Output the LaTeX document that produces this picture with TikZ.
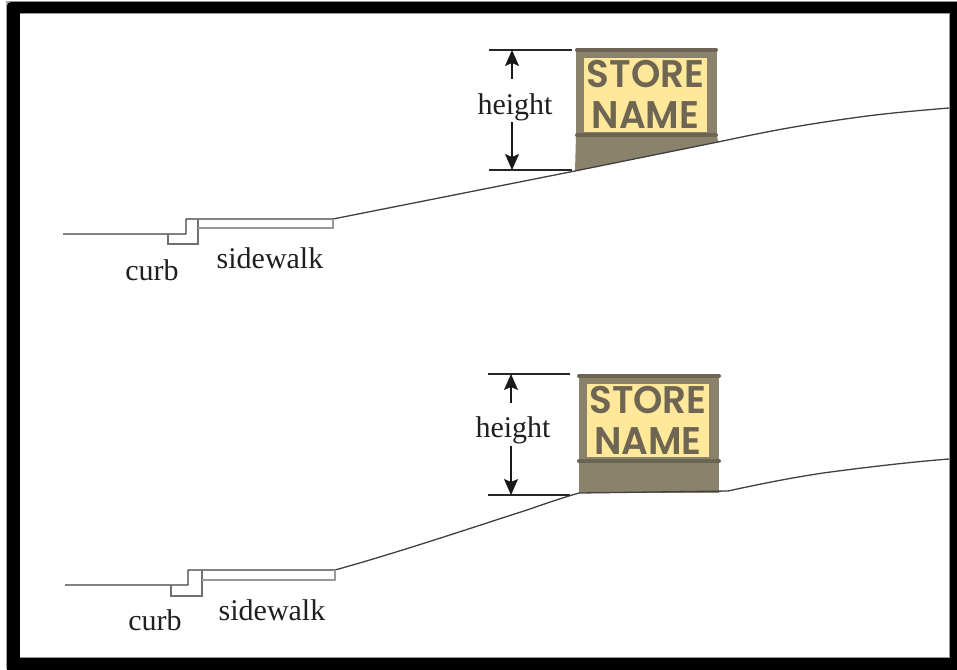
\documentclass[tikz,border=0pt]{standalone}
\usepackage{fontspec}
\setmainfont{Liberation Serif}
\newfontfamily\signfont[FakeStretch=0.97]{Poppins SemiBold}
\usetikzlibrary{arrows.meta}
\definecolor{bodyc}{HTML}{8B826C}
\definecolor{barc}{HTML}{6A6553}
\definecolor{yel}{HTML}{FFE89A}
\definecolor{letc}{HTML}{6E6653}
\definecolor{curbc}{HTML}{707070}
\definecolor{walkc}{HTML}{999999}
\tikzset{
  x=1pt,y=-1pt,
  label/.style={font=\fontsize{30}{30}\selectfont,text=black!88,inner sep=0pt},
  signtext/.style={font=\signfont\fontsize{38.5}{39}\selectfont,text=letc,inner sep=0pt,anchor=base},
  ground/.style={draw=black!75,line width=1.3pt,line join=round},
  curbline/.style={draw=curbc,line width=1.1pt,line join=miter},
  walkline/.style={draw=walkc,line width=1.1pt,line join=miter},
  dimline/.style={draw=black!85,line width=1.2pt},
  dimarrow/.style={draw=black!90,line width=1.2pt,-{Stealth[length=16pt,width=14pt,inset=3pt]}},
  bar/.style={draw=barc,line width=4pt,line cap=round},
}
\begin{document}
\begin{tikzpicture}
\useasboundingbox (0,0) rectangle (957,669);
\fill[white] (0,0) rectangle (957,669);
\fill[black!35] (6,1) rectangle (957,669);
\fill[black,rounded corners=4pt] (7,2) rectangle (970,680);
\fill[black!40] (19.5,13.5) rectangle (949.5,657.5);
\fill[white] (20,14) rectangle (949,657);

% --- upper scene ---
\coordinate (g1a) at (63,234); \coordinate (g1b) at (186,234); \coordinate (g1c) at (186,219);
\coordinate (g1d) at (333,219); \coordinate (g1e) at (575,171); \coordinate (g1f) at (718,142);
\coordinate (g1g) at (949,108);
\coordinate (c1a) at (168,234); \coordinate (c1b) at (168,244); \coordinate (c1c) at (198,244);
\coordinate (c1d) at (198,219); \coordinate (s1a) at (198,228); \coordinate (s1b) at (333,228);
\fill[bodyc] (g1e) -- (576,135) -- (717,135) -- (g1f) -- cycle;
\fill[bodyc] (576,50) rectangle (717,135);
\fill[yel] (584,58) rectangle (707,132);
\draw[bar] (577,50) -- (716,50);
\draw[bar] (577,135) -- (716,135);
\node[signtext] (store1) at (645.5,87) {STORE};
\node[signtext] (name1) at (645.5,128) {NAME};
\draw[ground] (g1a) -- (g1b) -- (g1c) -- (g1d) -- (g1e) -- (g1f)
  .. controls (770,131) and (800,125) .. (867,116) .. controls (895,112.5) and (925,110) .. (g1g);
\draw[curbline] (c1a) -- (c1b) -- (c1c) -- (c1d);
\draw[walkline] (s1a) -- (s1b) -- (g1d);
\coordinate (d1a) at (489,50); \coordinate (d1b) at (572,50);
\coordinate (d1c) at (489,170); \coordinate (d1d) at (572,170);
\draw[dimline] (d1a) -- (d1b);
\draw[dimline] (d1c) -- (d1d);
\node[label] (h1) at (515,107) {height};
\coordinate (t1) at (512,50); \coordinate (b1) at (512,170);
\coordinate (u1) at (512,79); \coordinate (l1) at (512,122);
\draw[dimarrow] (u1) -- (t1);
\draw[dimarrow] (l1) -- (b1);
\node[label] (curb1) at (152,270) {curb};
\node[label] (side1) at (270,258) {sidewalk};

% --- lower scene ---
\coordinate (g2a) at (65,585); \coordinate (g2b) at (188,585); \coordinate (g2c) at (188,570);
\coordinate (g2d) at (335,570); \coordinate (g2e) at (579,493); \coordinate (g2f) at (728,491);
\coordinate (g2g) at (949,459);
\coordinate (c2a) at (171,585); \coordinate (c2b) at (171,596); \coordinate (c2c) at (202,596);
\coordinate (c2d) at (202,570); \coordinate (s2a) at (202,580); \coordinate (s2b) at (335,580);
\fill[bodyc] (579,376) rectangle (719,493);
\fill[yel] (587,384) rectangle (709,457);
\draw[bar] (579,376) -- (719,376);
\draw[bar] (579,461) -- (719,461);
\node[signtext] (store2) at (648,413) {STORE};
\node[signtext] (name2) at (648,454) {NAME};
\draw[ground] (g2a) -- (g2b) -- (g2c) -- (g2d)
  .. controls (400,552) and (480,525) .. (527,510) .. controls (550,502) and (565,497) .. (g2e)
  -- (g2f) .. controls (760,484) and (790,478) .. (823,473) .. controls (860,468) and (910,462) .. (g2g);
\draw[curbline] (c2a) -- (c2b) -- (c2c) -- (c2d);
\draw[walkline] (s2a) -- (s2b) -- (g2d);
\coordinate (d2a) at (488,374); \coordinate (d2b) at (570,374);
\coordinate (d2c) at (488,495); \coordinate (d2d) at (570,495);
\draw[dimline] (d2a) -- (d2b);
\draw[dimline] (d2c) -- (d2d);
\node[label] (h2) at (513,430) {height};
\coordinate (t2) at (511,374); \coordinate (b2) at (511,495);
\coordinate (u2) at (511,403); \coordinate (l2) at (511,446);
\draw[dimarrow] (u2) -- (t2);
\draw[dimarrow] (l2) -- (b2);
\node[label] (curb2) at (155,620) {curb};
\node[label] (side2) at (272,610) {sidewalk};
\end{tikzpicture}
\end{document}
